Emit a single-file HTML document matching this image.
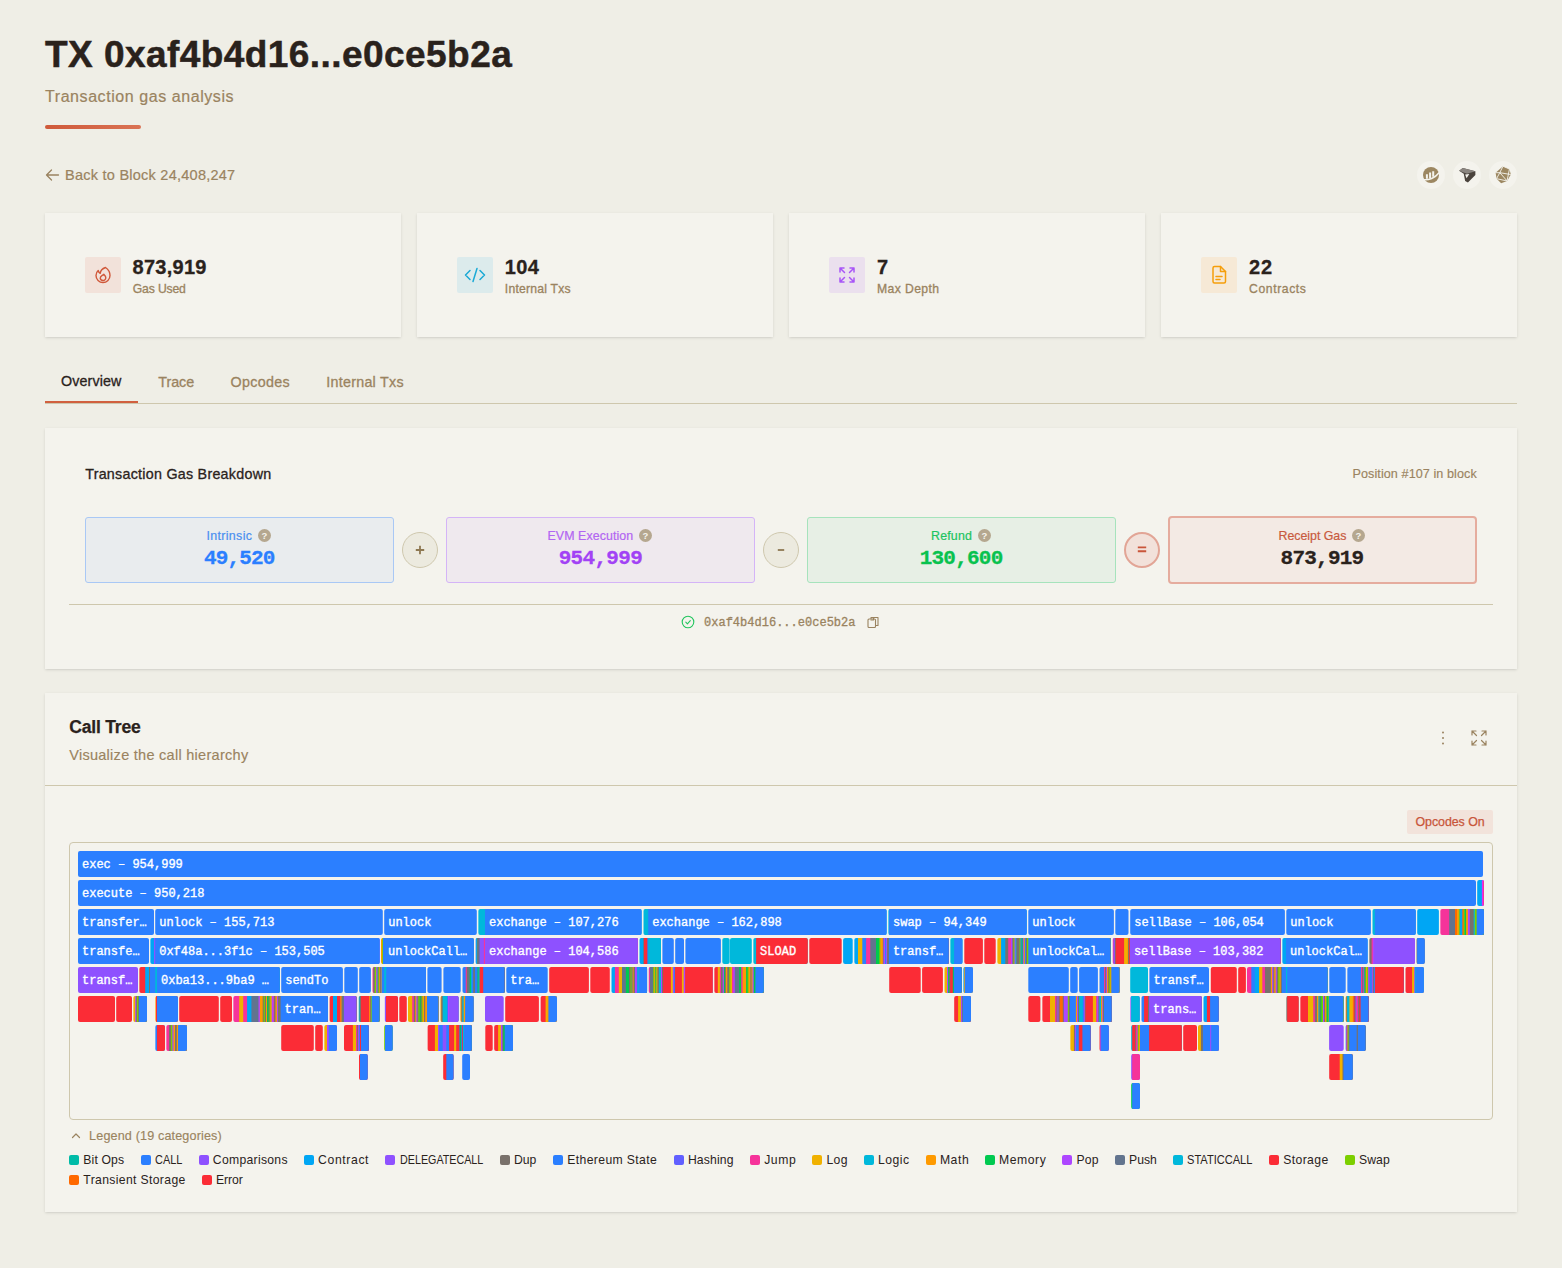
<!DOCTYPE html>
<html><head><meta charset="utf-8"><title>TX</title>
<style>
*{box-sizing:border-box;margin:0;padding:0}
html,body{width:1562px;height:1268px;overflow:hidden}
body{background:#EFEEE6;font-family:'Liberation Sans',sans-serif;color:#2A221C;position:relative}
.abs{position:absolute;white-space:nowrap}
.card{position:absolute;background:#F4F3ED;box-shadow:0 1px 3px rgba(0,0,0,.1),0 1px 2px -1px rgba(0,0,0,.1)}
.bar{left:45px;top:125px;width:96px;height:4px;border-radius:2px;background:linear-gradient(90deg,#CF5A3A,#DA7354)}
.circ{position:absolute;width:28px;height:28px;border-radius:50%;background:#F4F3ED;top:161px}
.ib{position:absolute;top:257px;width:36px;height:36px;border-radius:2px}
.gbox{position:absolute;top:517px;height:66px;width:309px;border-radius:3px;border:1px solid}
.q{position:absolute;top:529px;width:13px;height:13px;border-radius:50%;background:#B5A78F;color:#F4F3ED;font:700 9.5px/13px 'Liberation Sans',sans-serif;text-align:center}
.op{position:absolute;top:532px;width:36px;height:36px;border-radius:50%;border:1px solid #CFC8AE;background:#ECEADF}
.op svg{position:absolute;left:-1px;top:-1px}
.sw{position:absolute;width:10px;height:10px;border-radius:2px}
#chart text{font-family:'Liberation Mono',monospace;font-size:12px;fill:#fff;stroke:#fff;stroke-width:.35px}
</style></head><body>

<div class="abs" id="h1" style="left:45px;top:31px;font:700 37px/48px 'Liberation Sans',sans-serif;color:#2A221C;letter-spacing:0.441px;-webkit-text-stroke:0.5px #2A221C">TX 0xaf4b4d16...e0ce5b2a</div><div class="abs" id="sub" style="left:45px;top:87px;font:400 16px/20px 'Liberation Sans',sans-serif;color:#9A8360;letter-spacing:0.566px;-webkit-text-stroke:0.2px #9A8360">Transaction gas analysis</div>
<div class="abs bar"></div>
<svg class="abs" style="left:45px;top:168px" width="15" height="14" viewBox="0 0 15 14" fill="none" stroke="#9A8360" stroke-width="1.3" stroke-linecap="round" stroke-linejoin="round"><path d="M13.5 7H1.5M6.5 2L1.5 7l5 5"/></svg>
<div class="abs" id="back" style="left:65px;top:166px;font:400 14.5px/18px 'Liberation Sans',sans-serif;color:#9A8360;letter-spacing:0.249px;-webkit-text-stroke:0.2px #9A8360">Back to Block 24,408,247</div>

<div class="circ" style="left:1417px"><svg width="28" height="28" viewBox="0 0 28 28"><circle cx="14" cy="14" r="8" fill="#9C8761"/><path d="M9.900 13.200v4.600M13.100 11.600v5.800M16.200 10.200v5.600" stroke="#F4F3ED" stroke-width="2"/><path d="M6.500 18.700c5 .8 11.600-1.700 15.800-7.200" stroke="#F4F3ED" stroke-width="1.500" fill="none"/></svg></div>
<div class="circ" style="left:1453px"><svg width="28" height="28" viewBox="0 0 28 28"><g transform="translate(14,14.300) scale(.93) translate(-15,-14.300)"><path d="M6.500 9.500l4-3 13.500 3.500v4l-8 8-3-1.500-1.500-8z" fill="#4A433D"/><path d="M6.500 9.500l4-3 13.500 3.500-9 2.500z" fill="#8A8580"/><path d="M13 13.500l4.500-.5-3 4.500z" fill="#F4F3ED"/></g></svg></div>
<div class="circ" style="left:1489px"><svg width="28" height="28" viewBox="0 0 28 28"><g transform="translate(14,14) scale(.92) translate(-15,-15)"><path d="M15 5.500l7 3 1.500 6-4 7-6.500 2.500-5-5-1-6.500z" fill="#9C8761"/><path d="M15 5.500l-3.500 7 8 9M11.500 12.500l12 2M7 12.500l4.500 0M11.500 12.500l-3.500 6.500 11.500 2.500M15 5.500l7 3-2.500 12.500" stroke="#F4F3ED" stroke-width="1" fill="none"/></g></svg></div>
<div class="card" style="left:45px;top:213px;width:356px;height:124px"></div><div class="ib" style="left:85px;background:#F2E2DA"><svg width="36" height="36" viewBox="0 0 36 36" fill="none" stroke="#D0583A" stroke-width="1.4" stroke-linecap="round" stroke-linejoin="round"><path d="M20.500 10.500c3 2 4.500 5 4.500 8a7 7 0 0 1-14 0c0-2 .8-3.800 2.200-5 .3 1.200 1 2.200 2 2.800.3-2.500 1.800-4.600 5.300-5.800z"/><path d="M18 23.500a2.800 2.800 0 0 0 2.800-2.800c0-1.500-1-2.500-2-3.500-1.300 1.200-3.600 2-3.600 4a2.800 2.800 0 0 0 2.800 2.300z"/></svg></div><div class="abs" id="s1n" style="left:132.6px;top:255px;font:700 20px/24px 'Liberation Sans',sans-serif;color:#2A221C;letter-spacing:0.247px;-webkit-text-stroke:0.3px #2A221C">873,919</div><div class="abs" id="s1l" style="left:132.8px;top:281px;font:400 12.2px/16px 'Liberation Sans',sans-serif;color:#9A8360;letter-spacing:-0.160px;-webkit-text-stroke:0.3px #9A8360">Gas Used</div>
<div class="card" style="left:417px;top:213px;width:356px;height:124px"></div><div class="ib" style="left:457px;background:#DCEBEC"><svg width="36" height="36" viewBox="0 0 36 36" fill="none" stroke="#19A9D6" stroke-width="1.5" stroke-linecap="round" stroke-linejoin="round"><path d="M13 13.500l-4.500 4.500 4.500 4.500M23 13.500l4.500 4.500-4.500 4.500M20 11.500l-4 13"/></svg></div><div class="abs" id="s2n" style="left:504.8px;top:255px;font:700 20px/24px 'Liberation Sans',sans-serif;color:#2A221C;letter-spacing:0.410px;-webkit-text-stroke:0.3px #2A221C">104</div><div class="abs" id="s2l" style="left:504.8px;top:281px;font:400 12.2px/16px 'Liberation Sans',sans-serif;color:#9A8360;letter-spacing:0.221px;-webkit-text-stroke:0.3px #9A8360">Internal Txs</div>
<div class="card" style="left:789px;top:213px;width:356px;height:124px"></div><div class="ib" style="left:829px;background:#EBE0EE"><svg width="36" height="36" viewBox="0 0 36 36" fill="none" stroke="#A855F7" stroke-width="1.5" stroke-linecap="round" stroke-linejoin="round"><path d="M11 15v-4h4M11 11l4.500 4.500M25 15v-4h-4M25 11l-4.500 4.500M11 21v4h4M11 25l4.500-4.500M25 21v4h-4M25 25l-4.500-4.500"/></svg></div><div class="abs" id="s3n" style="left:877.1px;top:255px;font:700 20px/24px 'Liberation Sans',sans-serif;color:#2A221C;letter-spacing:-0.625px;-webkit-text-stroke:0.3px #2A221C">7</div><div class="abs" id="s3l" style="left:877.1px;top:281px;font:400 12.2px/16px 'Liberation Sans',sans-serif;color:#9A8360;letter-spacing:0.372px;-webkit-text-stroke:0.3px #9A8360">Max Depth</div>
<div class="card" style="left:1161px;top:213px;width:356px;height:124px"></div><div class="ib" style="left:1201px;background:#F6E9D6"><svg width="36" height="36" viewBox="0 0 36 36" fill="none" stroke="#F59E0B" stroke-width="1.5" stroke-linecap="round" stroke-linejoin="round"><path d="M13.500 9.500h6l5 5v10a1.500 1.500 0 0 1-1.500 1.500h-9.500a1.500 1.500 0 0 1-1.500-1.500v-13.500a1.500 1.500 0 0 1 1.500-1.500z"/><path d="M19.500 9.500v5h5M15 19.500h6M15 22.500h4"/></svg></div><div class="abs" id="s4n" style="left:1249.1px;top:255px;font:700 20px/24px 'Liberation Sans',sans-serif;color:#2A221C;letter-spacing:0.833px;-webkit-text-stroke:0.3px #2A221C">22</div><div class="abs" id="s4l" style="left:1249.1px;top:281px;font:400 12.2px/16px 'Liberation Sans',sans-serif;color:#9A8360;letter-spacing:0.582px;-webkit-text-stroke:0.3px #9A8360">Contracts</div>

<div class="abs" style="left:45px;top:403px;width:1472px;height:1px;background:#CEC7AD"></div>
<div class="abs" style="left:45px;top:401px;width:93px;height:2px;background:#D1603F"></div>
<div class="abs" id="t1" style="left:61.1px;top:372px;font:400 14.3px/18px 'Liberation Sans',sans-serif;color:#2A221C;letter-spacing:0.094px;-webkit-text-stroke:0.3px #2A221C">Overview</div><div class="abs" id="t2" style="left:158.2px;top:373px;font:400 14.3px/18px 'Liberation Sans',sans-serif;color:#9A8360;letter-spacing:-0.003px;-webkit-text-stroke:0.3px #9A8360">Trace</div><div class="abs" id="t3" style="left:230.6px;top:373px;font:400 14.3px/18px 'Liberation Sans',sans-serif;color:#9A8360;letter-spacing:0.302px;-webkit-text-stroke:0.3px #9A8360">Opcodes</div><div class="abs" id="t4" style="left:326.3px;top:373px;font:400 14.3px/18px 'Liberation Sans',sans-serif;color:#9A8360;letter-spacing:0.258px;-webkit-text-stroke:0.3px #9A8360">Internal Txs</div>

<div class="card" style="left:45px;top:428px;width:1472px;height:241px"></div>
<div class="abs" id="gt" style="left:85.2px;top:465px;font:400 14.3px/18px 'Liberation Sans',sans-serif;color:#2A221C;letter-spacing:0.255px;-webkit-text-stroke:0.3px #2A221C">Transaction Gas Breakdown</div><div class="abs" id="pos" style="left:1352.5px;top:466px;font:400 12.6px/16px 'Liberation Sans',sans-serif;color:#9A8360;letter-spacing:0.082px;-webkit-text-stroke:0.15px #9A8360">Position #107 in block</div>

<div class="gbox" style="left:85px;background:#E9ECEE;border-color:#A9C8F5"></div><div class="abs" id="g1t" style="left:206.4px;top:528.2px;font:400 12.4px/16px 'Liberation Sans',sans-serif;color:#4A8FF0;letter-spacing:0.364px;-webkit-text-stroke:0.2px #4A8FF0">Intrinsic</div><div class="q" style="left:258px">?</div><div class="abs" id="g1v" style="left:204px;top:546.2px;font:700 21px/26px 'Liberation Mono',monospace;color:#2B7FFF;letter-spacing:-0.841px;-webkit-text-stroke:0.3px #2B7FFF">49,520</div>
<div class="op" style="left:402px"><svg width="36" height="36" viewBox="0 0 36 36" stroke="#8E7852" stroke-width="1.800"><path d="M13.800 18h8.400M18 13.800v8.400"/></svg></div>
<div class="gbox" style="left:446px;background:#EFE9EE;border-color:#D4B4F7"></div><div class="abs" id="g2t" style="left:547.5px;top:528.2px;font:400 12.4px/16px 'Liberation Sans',sans-serif;color:#B266F2;letter-spacing:0.079px;-webkit-text-stroke:0.2px #B266F2">EVM Execution</div><div class="q" style="left:639px">?</div><div class="abs" id="g2v" style="left:558.7px;top:546.2px;font:700 21px/26px 'Liberation Mono',monospace;color:#A242F5;letter-spacing:-0.695px;-webkit-text-stroke:0.3px #A242F5">954,999</div>
<div class="op" style="left:763px"><svg width="36" height="36" viewBox="0 0 36 36" stroke="#8E7852" stroke-width="1.800"><path d="M14.800 18h6.400"/></svg></div>
<div class="gbox" style="left:807px;background:#E7EFE5;border-color:#A6E3BC"></div><div class="abs" id="g3t" style="left:931px;top:528.2px;font:400 12.4px/16px 'Liberation Sans',sans-serif;color:#1DC45F;letter-spacing:0.188px;-webkit-text-stroke:0.2px #1DC45F">Refund</div><div class="q" style="left:978px">?</div><div class="abs" id="g3v" style="left:919.7px;top:546.2px;font:700 21px/26px 'Liberation Mono',monospace;color:#08C24E;letter-spacing:-0.772px;-webkit-text-stroke:0.3px #08C24E">130,600</div>
<div class="op" style="left:1124px;border:2px solid #E2A596;background:#F2E1DA"><svg width="36" height="36" viewBox="0 0 36 36" stroke="#C9563B" stroke-width="1.900" style="left:-2px;top:-2px"><path d="M13.800 15.400h8.400M13.800 19.200h8.400"/></svg></div>
<div class="gbox" style="left:1168px;top:516px;height:68px;background:#F3EAE4;border:2px solid #E5AC9E;border-radius:4px"></div><div class="abs" id="g4t" style="left:1278.6px;top:528.2px;font:400 12.4px/16px 'Liberation Sans',sans-serif;color:#C85A3E;letter-spacing:-0.037px;-webkit-text-stroke:0.2px #C85A3E">Receipt Gas</div><div class="q" style="left:1352px">?</div><div class="abs" id="g4v" style="left:1280.6px;top:546.2px;font:700 21px/26px 'Liberation Mono',monospace;color:#2A221C;letter-spacing:-0.772px;-webkit-text-stroke:0.3px #2A221C">873,919</div>

<div class="abs" style="left:69px;top:604px;width:1424px;height:1px;background:#CEC7AD"></div>
<svg class="abs" style="left:681px;top:615px" width="14" height="14" viewBox="0 0 14 14" fill="none" stroke="#22C55E" stroke-width="1.1" stroke-linecap="round" stroke-linejoin="round"><circle cx="7" cy="7" r="5.800"/><path d="M4.800 7.200l1.600 1.600 2.900-3.200"/></svg>
<div class="abs" id="hash" style="left:704px;top:614.6px;font:400 12px/16px 'Liberation Mono',monospace;color:#9A8360;letter-spacing:0.013px;-webkit-text-stroke:0.3px #9A8360">0xaf4b4d16...e0ce5b2a</div>
<svg class="abs" style="left:866px;top:615px" width="14" height="14" viewBox="0 0 14 14" fill="none" stroke="#9A8360" stroke-width="1.1" stroke-linejoin="round"><rect x="2" y="4" width="7.500" height="8.500" rx="1"/><path d="M5 4V2.500h7v8h-2.500M7.500 2.500v2.500h-3"/></svg>

<div class="card" style="left:45px;top:693px;width:1472px;height:519px"></div>
<div class="abs" id="ct" style="left:69.2px;top:716px;font:700 17.5px/22px 'Liberation Sans',sans-serif;color:#2A221C;letter-spacing:-0.173px;-webkit-text-stroke:0.25px #2A221C">Call Tree</div><div class="abs" id="cs" style="left:69.2px;top:746px;font:400 14.5px/18px 'Liberation Sans',sans-serif;color:#9A8360;letter-spacing:0.280px;-webkit-text-stroke:0.15px #9A8360">Visualize the call hierarchy</div>
<div class="abs" style="left:45px;top:785px;width:1472px;height:1px;background:#CEC7AD"></div>
<svg class="abs" style="left:1436px;top:730px" width="14" height="16" viewBox="0 0 14 16" fill="#9A8360"><circle cx="7" cy="2.500" r="1"/><circle cx="7" cy="8" r="1"/><circle cx="7" cy="13.500" r="1"/></svg>
<svg class="abs" style="left:1470px;top:729px" width="18" height="18" viewBox="0 0 18 18" fill="none" stroke="#9A8360" stroke-width="1.2" stroke-linecap="round" stroke-linejoin="round"><path d="M2 6V2h4M2 2l4.500 4.500M16 6V2h-4M16 2l-4.500 4.500M2 12v4h4M2 16l4.500-4.500M16 12v4h-4M16 16l-4.500-4.500"/></svg>
<div class="abs" style="left:1407px;top:810px;width:86px;height:24px;border-radius:2px;background:#F2E3DB"></div><div class="abs" id="ob" style="left:1415.5px;top:814px;font:400 12.4px/16px 'Liberation Sans',sans-serif;color:#C8553A;letter-spacing:-0.050px;-webkit-text-stroke:0.25px #C8553A">Opcodes On</div>

<div class="abs" style="left:69px;top:842px;width:1424px;height:278px;border:1px solid #CEC7AD;border-radius:4px;background:#F4F3ED"></div>
<div class="abs" id="chart" style="left:70px;top:843px;width:1422px;height:276px"><svg width="1422" height="276" viewBox="0 0 1422 276" style="display:block"><defs><clipPath id="k1"><rect x="1407.1" y="37" width="6.9" height="26" rx="2.0"/></clipPath><clipPath id="k2"><rect x="408.2" y="66" width="163.6" height="26" rx="2.0"/></clipPath><clipPath id="k3"><rect x="573.3" y="66" width="243.5" height="26" rx="2.0"/></clipPath><clipPath id="k4"><rect x="818.2" y="66" width="138.7" height="26" rx="2.0"/></clipPath><clipPath id="k5"><rect x="1302.3" y="66" width="43.6" height="26" rx="2.0"/></clipPath><clipPath id="k6"><rect x="1370.2" y="66" width="43.8" height="26" rx="2.0"/></clipPath><clipPath id="k7"><rect x="80.2" y="95" width="229.6" height="26" rx="2.0"/></clipPath><clipPath id="k8"><rect x="311.0" y="95" width="92.9" height="26" rx="2.0"/></clipPath><clipPath id="k9"><rect x="405.4" y="95" width="162.5" height="26" rx="2.0"/></clipPath><clipPath id="k10"><rect x="569.3" y="95" width="21.7" height="26" rx="2.0"/></clipPath><clipPath id="k11"><rect x="683.2" y="95" width="54.7" height="26" rx="2.0"/></clipPath><clipPath id="k12"><rect x="784.2" y="95" width="94.6" height="26" rx="2.0"/></clipPath><clipPath id="k13"><rect x="880.2" y="95" width="12.5" height="26" rx="2.0"/></clipPath><clipPath id="k14"><rect x="927.2" y="95" width="113.6" height="26" rx="2.0"/></clipPath><clipPath id="k15"><rect x="1042.5" y="95" width="168.3" height="26" rx="2.0"/></clipPath><clipPath id="k16"><rect x="1212.2" y="95" width="85.6" height="26" rx="2.0"/></clipPath><clipPath id="k17"><rect x="1299.2" y="95" width="45.7" height="26" rx="2.0"/></clipPath><clipPath id="k18"><rect x="1346.3" y="95" width="8.6" height="26" rx="2.0"/></clipPath><clipPath id="k19"><rect x="69.2" y="124" width="140.6" height="26" rx="2.0"/></clipPath><clipPath id="k20"><rect x="302.3" y="124" width="53.7" height="26" rx="2.0"/></clipPath><clipPath id="k21"><rect x="392.3" y="124" width="42.4" height="26" rx="2.0"/></clipPath><clipPath id="k22"><rect x="541.3" y="124" width="35.8" height="26" rx="2.0"/></clipPath><clipPath id="k23"><rect x="578.5" y="124" width="64.3" height="26" rx="2.0"/></clipPath><clipPath id="k24"><rect x="644.2" y="124" width="49.7" height="26" rx="2.0"/></clipPath><clipPath id="k25"><rect x="874.3" y="124" width="17.6" height="26" rx="2.0"/></clipPath><clipPath id="k26"><rect x="893.2" y="124" width="9.8" height="26" rx="2.0"/></clipPath><clipPath id="k27"><rect x="1029.3" y="124" width="20.5" height="26" rx="2.0"/></clipPath><clipPath id="k28"><rect x="1177.0" y="124" width="80.6" height="26" rx="2.0"/></clipPath><clipPath id="k29"><rect x="1277.2" y="124" width="56.7" height="26" rx="2.0"/></clipPath><clipPath id="k30"><rect x="1335.3" y="124" width="18.6" height="26" rx="2.0"/></clipPath><clipPath id="k31"><rect x="63.2" y="153" width="13.8" height="26" rx="2.0"/></clipPath><clipPath id="k32"><rect x="85.2" y="153" width="22.8" height="26" rx="2.0"/></clipPath><clipPath id="k33"><rect x="163.2" y="153" width="94.8" height="26" rx="2.0"/></clipPath><clipPath id="k34"><rect x="259.4" y="153" width="27.3" height="26" rx="2.0"/></clipPath><clipPath id="k35"><rect x="288.5" y="153" width="21.3" height="26" rx="2.0"/></clipPath><clipPath id="k36"><rect x="314.6" y="153" width="13.4" height="26" rx="2.0"/></clipPath><clipPath id="k37"><rect x="337.9" y="153" width="30.8" height="26" rx="2.0"/></clipPath><clipPath id="k38"><rect x="370.3" y="153" width="18.3" height="26" rx="2.0"/></clipPath><clipPath id="k39"><rect x="390.2" y="153" width="13.7" height="26" rx="2.0"/></clipPath><clipPath id="k40"><rect x="470.4" y="153" width="16.6" height="26" rx="2.0"/></clipPath><clipPath id="k41"><rect x="884.1" y="153" width="16.9" height="26" rx="2.0"/></clipPath><clipPath id="k42"><rect x="972.2" y="153" width="69.6" height="26" rx="2.0"/></clipPath><clipPath id="k43"><rect x="1060.2" y="153" width="9.7" height="26" rx="2.0"/></clipPath><clipPath id="k44"><rect x="1071.3" y="153" width="60.6" height="26" rx="2.0"/></clipPath><clipPath id="k45"><rect x="1133.3" y="153" width="15.6" height="26" rx="2.0"/></clipPath><clipPath id="k46"><rect x="1216.2" y="153" width="12.6" height="26" rx="2.0"/></clipPath><clipPath id="k47"><rect x="1230.2" y="153" width="43.5" height="26" rx="2.0"/></clipPath><clipPath id="k48"><rect x="1275.4" y="153" width="23.4" height="26" rx="2.0"/></clipPath><clipPath id="k49"><rect x="85.2" y="182" width="9.8" height="26" rx="2.0"/></clipPath><clipPath id="k50"><rect x="96.2" y="182" width="20.8" height="26" rx="2.0"/></clipPath><clipPath id="k51"><rect x="254.2" y="182" width="12.8" height="26" rx="2.0"/></clipPath><clipPath id="k52"><rect x="274.0" y="182" width="24.9" height="26" rx="2.0"/></clipPath><clipPath id="k53"><rect x="314.1" y="182" width="8.8" height="26" rx="2.0"/></clipPath><clipPath id="k54"><rect x="357.4" y="182" width="44.4" height="26" rx="2.0"/></clipPath><clipPath id="k55"><rect x="424.1" y="182" width="18.9" height="26" rx="2.0"/></clipPath><clipPath id="k56"><rect x="1000.2" y="182" width="20.6" height="26" rx="2.0"/></clipPath><clipPath id="k57"><rect x="1029.3" y="182" width="9.6" height="26" rx="2.0"/></clipPath><clipPath id="k58"><rect x="1061.1" y="182" width="50.8" height="26" rx="2.0"/></clipPath><clipPath id="k59"><rect x="1128.0" y="182" width="20.9" height="26" rx="2.0"/></clipPath><clipPath id="k60"><rect x="1275.4" y="182" width="20.3" height="26" rx="2.0"/></clipPath><clipPath id="k61"><rect x="289.0" y="211" width="8.9" height="26" rx="2.0"/></clipPath><clipPath id="k62"><rect x="373.1" y="211" width="10.7" height="26" rx="2.0"/></clipPath><clipPath id="k63"><rect x="1061.1" y="211" width="8.9" height="26" rx="2.0"/></clipPath><clipPath id="k64"><rect x="1259.1" y="211" width="23.8" height="26" rx="2.0"/></clipPath><clipPath id="k65"><rect x="1061.1" y="240" width="8.9" height="26" rx="2.0"/></clipPath></defs><rect x="8.0" y="8" width="1405.0" height="26" rx="2.0" fill="#2B7FFF"/><rect x="8.0" y="37" width="1398.0" height="26" rx="2.0" fill="#2B7FFF"/><g clip-path="url(#k1)"><rect x="1407.1" y="37" width="6.9" height="26" fill="#00A6F4"/><rect x="1411.9" y="37" width="2.1" height="26" fill="#E12AFB"/><rect x="1413.0" y="37" width="1.0" height="26" fill="#F6339A"/></g><rect x="8.0" y="66" width="76.0" height="26" rx="2.0" fill="#2B7FFF"/><rect x="85.2" y="66" width="227.6" height="26" rx="2.0" fill="#2B7FFF"/><rect x="314.2" y="66" width="92.6" height="26" rx="2.0" fill="#2B7FFF"/><g clip-path="url(#k2)"><rect x="408.2" y="66" width="163.6" height="26" fill="#00B8DB"/><rect x="415.0" y="66" width="156.8" height="26" fill="#2B7FFF"/></g><g clip-path="url(#k3)"><rect x="573.3" y="66" width="243.5" height="26" fill="#00B8DB"/><rect x="578.2" y="66" width="238.6" height="26" fill="#2B7FFF"/></g><g clip-path="url(#k4)"><rect x="818.2" y="66" width="138.7" height="26" fill="#00B8DB"/><rect x="819.0" y="66" width="137.9" height="26" fill="#2B7FFF"/></g><rect x="958.3" y="66" width="85.6" height="26" rx="2.0" fill="#2B7FFF"/><rect x="1045.3" y="66" width="13.2" height="26" rx="2.0" fill="#2B7FFF"/><rect x="1060.2" y="66" width="154.7" height="26" rx="2.0" fill="#2B7FFF"/><rect x="1216.3" y="66" width="84.6" height="26" rx="2.0" fill="#2B7FFF"/><g clip-path="url(#k5)"><rect x="1302.3" y="66" width="43.6" height="26" fill="#00B8DB"/><rect x="1304.9" y="66" width="41.0" height="26" fill="#2B7FFF"/></g><rect x="1347.2" y="66" width="21.7" height="26" rx="2.0" fill="#00A6F4"/><g clip-path="url(#k6)"><rect x="1370.2" y="66" width="43.8" height="26" fill="#F6339A"/><rect x="1379.2" y="66" width="34.8" height="26" fill="#62748E"/><rect x="1385.0" y="66" width="29.0" height="26" fill="#FF6900"/><rect x="1387.0" y="66" width="27.0" height="26" fill="#FE9A00"/><rect x="1388.8" y="66" width="25.2" height="26" fill="#7CCF00"/><rect x="1389.7" y="66" width="24.3" height="26" fill="#00A6F4"/><rect x="1392.3" y="66" width="21.7" height="26" fill="#FF6900"/><rect x="1393.7" y="66" width="20.3" height="26" fill="#7CCF00"/><rect x="1394.7" y="66" width="19.3" height="26" fill="#00C950"/><rect x="1396.1" y="66" width="17.9" height="26" fill="#FE9A00"/><rect x="1397.9" y="66" width="16.1" height="26" fill="#AD46FF"/><rect x="1399.8" y="66" width="14.2" height="26" fill="#79716B"/><rect x="1403.7" y="66" width="10.3" height="26" fill="#00B8DB"/><rect x="1404.8" y="66" width="9.2" height="26" fill="#7CCF00"/><rect x="1406.7" y="66" width="7.3" height="26" fill="#2B7FFF"/></g><rect x="8.0" y="95" width="71.0" height="26" rx="2.0" fill="#2B7FFF"/><g clip-path="url(#k7)"><rect x="80.2" y="95" width="229.6" height="26" fill="#00A6F4"/><rect x="84.0" y="95" width="225.8" height="26" fill="#8E51FF"/><rect x="85.2" y="95" width="224.6" height="26" fill="#2B7FFF"/></g><g clip-path="url(#k8)"><rect x="311.0" y="95" width="92.9" height="26" fill="#FE9A00"/><rect x="312.2" y="95" width="91.7" height="26" fill="#7CCF00"/><rect x="313.0" y="95" width="90.9" height="26" fill="#2B7FFF"/><rect x="314.1" y="95" width="89.8" height="26" fill="#2B7FFF"/></g><g clip-path="url(#k9)"><rect x="405.4" y="95" width="162.5" height="26" fill="#2B7FFF"/><rect x="406.3" y="95" width="161.6" height="26" fill="#00B8DB"/><rect x="407.2" y="95" width="160.7" height="26" fill="#79716B"/><rect x="408.2" y="95" width="159.7" height="26" fill="#62748E"/><rect x="409.6" y="95" width="158.3" height="26" fill="#8E51FF"/><rect x="413.9" y="95" width="154.0" height="26" fill="#F6339A"/><rect x="415.0" y="95" width="152.9" height="26" fill="#8E51FF"/></g><g clip-path="url(#k10)"><rect x="569.3" y="95" width="21.7" height="26" fill="#00A6F4"/><rect x="573.3" y="95" width="17.7" height="26" fill="#79716B"/><rect x="574.0" y="95" width="17.0" height="26" fill="#FB2C36"/><rect x="577.3" y="95" width="13.7" height="26" fill="#2B7FFF"/><rect x="578.2" y="95" width="12.8" height="26" fill="#00B8DB"/></g><rect x="592.4" y="95" width="11.4" height="26" rx="2.0" fill="#2B7FFF"/><rect x="605.2" y="95" width="8.8" height="26" rx="2.0" fill="#2B7FFF"/><rect x="615.4" y="95" width="35.5" height="26" rx="2.0" fill="#2B7FFF"/><rect x="652.3" y="95" width="7.4" height="26" rx="2.0" fill="#00B8DB"/><rect x="660.0" y="95" width="21.8" height="26" rx="2.0" fill="#00B8DB"/><g clip-path="url(#k11)"><rect x="683.2" y="95" width="54.7" height="26" fill="#00B8DB"/><rect x="686.1" y="95" width="51.8" height="26" fill="#FB2C36"/></g><rect x="739.3" y="95" width="32.4" height="26" rx="2.0" fill="#FB2C36"/><rect x="773.1" y="95" width="9.6" height="26" rx="2.0" fill="#00A6F4"/><g clip-path="url(#k12)"><rect x="784.2" y="95" width="94.6" height="26" fill="#00A6F4"/><rect x="788.0" y="95" width="90.8" height="26" fill="#F0B100"/><rect x="792.3" y="95" width="86.5" height="26" fill="#2B7FFF"/><rect x="796.1" y="95" width="82.7" height="26" fill="#F6339A"/><rect x="800.3" y="95" width="78.5" height="26" fill="#62748E"/><rect x="806.0" y="95" width="72.8" height="26" fill="#00C950"/><rect x="809.3" y="95" width="69.5" height="26" fill="#7CCF00"/><rect x="810.4" y="95" width="68.4" height="26" fill="#FE9A00"/><rect x="812.8" y="95" width="66.0" height="26" fill="#79716B"/><rect x="813.5" y="95" width="65.3" height="26" fill="#AD46FF"/><rect x="815.0" y="95" width="63.8" height="26" fill="#2B7FFF"/><rect x="816.1" y="95" width="62.7" height="26" fill="#AD46FF"/><rect x="817.1" y="95" width="61.7" height="26" fill="#79716B"/><rect x="818.9" y="95" width="59.9" height="26" fill="#2B7FFF"/></g><g clip-path="url(#k13)"><rect x="880.2" y="95" width="12.5" height="26" fill="#00B8DB"/><rect x="884.1" y="95" width="8.6" height="26" fill="#2B7FFF"/></g><rect x="894.3" y="95" width="18.6" height="26" rx="2.0" fill="#FB2C36"/><rect x="914.3" y="95" width="11.4" height="26" rx="2.0" fill="#FB2C36"/><g clip-path="url(#k14)"><rect x="927.2" y="95" width="113.6" height="26" fill="#F0B100"/><rect x="931.1" y="95" width="109.7" height="26" fill="#00A6F4"/><rect x="935.3" y="95" width="105.5" height="26" fill="#79716B"/><rect x="938.2" y="95" width="102.6" height="26" fill="#F6339A"/><rect x="941.0" y="95" width="99.8" height="26" fill="#AD46FF"/><rect x="942.4" y="95" width="98.4" height="26" fill="#79716B"/><rect x="943.4" y="95" width="97.4" height="26" fill="#7CCF00"/><rect x="944.5" y="95" width="96.3" height="26" fill="#AD46FF"/><rect x="945.5" y="95" width="95.3" height="26" fill="#00B8DB"/><rect x="946.4" y="95" width="94.4" height="26" fill="#79716B"/><rect x="949.5" y="95" width="91.3" height="26" fill="#7CCF00"/><rect x="950.5" y="95" width="90.3" height="26" fill="#2B7FFF"/><rect x="951.6" y="95" width="89.2" height="26" fill="#00C950"/><rect x="952.8" y="95" width="88.0" height="26" fill="#AD46FF"/><rect x="953.8" y="95" width="87.0" height="26" fill="#FE9A00"/><rect x="954.8" y="95" width="86.0" height="26" fill="#2B7FFF"/><rect x="955.9" y="95" width="84.9" height="26" fill="#79716B"/><rect x="957.0" y="95" width="83.8" height="26" fill="#7CCF00"/><rect x="958.3" y="95" width="82.5" height="26" fill="#2B7FFF"/></g><g clip-path="url(#k15)"><rect x="1042.5" y="95" width="168.3" height="26" fill="#F6339A"/><rect x="1043.5" y="95" width="167.3" height="26" fill="#8E51FF"/><rect x="1044.9" y="95" width="165.9" height="26" fill="#79716B"/><rect x="1045.7" y="95" width="165.1" height="26" fill="#FB2C36"/><rect x="1054.1" y="95" width="156.7" height="26" fill="#F0B100"/><rect x="1057.1" y="95" width="153.7" height="26" fill="#FE9A00"/><rect x="1058.1" y="95" width="152.7" height="26" fill="#79716B"/><rect x="1059.0" y="95" width="151.8" height="26" fill="#FB2C36"/><rect x="1059.9" y="95" width="150.9" height="26" fill="#8E51FF"/></g><g clip-path="url(#k16)"><rect x="1212.2" y="95" width="85.6" height="26" fill="#00A6F4"/><rect x="1216.0" y="95" width="81.8" height="26" fill="#2B7FFF"/></g><g clip-path="url(#k17)"><rect x="1299.2" y="95" width="45.7" height="26" fill="#79716B"/><rect x="1301.6" y="95" width="43.3" height="26" fill="#F6339A"/><rect x="1302.8" y="95" width="42.1" height="26" fill="#AD46FF"/><rect x="1304.2" y="95" width="40.7" height="26" fill="#8E51FF"/></g><g clip-path="url(#k18)"><rect x="1346.3" y="95" width="8.6" height="26" fill="#79716B"/><rect x="1347.1" y="95" width="7.8" height="26" fill="#2B7FFF"/></g><rect x="8.0" y="124" width="60.0" height="26" rx="2.0" fill="#8E51FF"/><g clip-path="url(#k19)"><rect x="69.2" y="124" width="140.6" height="26" fill="#FB2C36"/><rect x="75.2" y="124" width="134.6" height="26" fill="#00A6F4"/><rect x="79.0" y="124" width="130.8" height="26" fill="#79716B"/><rect x="80.0" y="124" width="129.8" height="26" fill="#2B7FFF"/><rect x="85.2" y="124" width="124.6" height="26" fill="#00B8DB"/><rect x="87.0" y="124" width="122.8" height="26" fill="#2B7FFF"/></g><rect x="211.2" y="124" width="61.7" height="26" rx="2.0" fill="#2B7FFF"/><rect x="274.3" y="124" width="13.5" height="26" rx="2.0" fill="#2B7FFF"/><rect x="289.2" y="124" width="11.7" height="26" rx="2.0" fill="#2B7FFF"/><g clip-path="url(#k20)"><rect x="302.3" y="124" width="53.7" height="26" fill="#F6339A"/><rect x="303.4" y="124" width="52.6" height="26" fill="#79716B"/><rect x="304.8" y="124" width="51.2" height="26" fill="#7CCF00"/><rect x="306.2" y="124" width="49.8" height="26" fill="#AD46FF"/><rect x="307.6" y="124" width="48.4" height="26" fill="#00C950"/><rect x="308.6" y="124" width="47.4" height="26" fill="#FE9A00"/><rect x="309.8" y="124" width="46.2" height="26" fill="#79716B"/><rect x="310.9" y="124" width="45.1" height="26" fill="#FE9A00"/><rect x="311.5" y="124" width="44.5" height="26" fill="#2B7FFF"/><rect x="314.1" y="124" width="41.9" height="26" fill="#00B8DB"/><rect x="316.2" y="124" width="39.8" height="26" fill="#2B7FFF"/></g><rect x="357.4" y="124" width="14.2" height="26" rx="2.0" fill="#2B7FFF"/><rect x="373.4" y="124" width="17.3" height="26" rx="2.0" fill="#2B7FFF"/><g clip-path="url(#k21)"><rect x="392.3" y="124" width="42.4" height="26" fill="#2B7FFF"/><rect x="395.7" y="124" width="39.0" height="26" fill="#F6339A"/><rect x="396.8" y="124" width="37.9" height="26" fill="#79716B"/><rect x="398.3" y="124" width="36.4" height="26" fill="#62748E"/><rect x="399.7" y="124" width="35.0" height="26" fill="#00C950"/><rect x="400.8" y="124" width="33.9" height="26" fill="#00B8DB"/><rect x="401.8" y="124" width="32.9" height="26" fill="#2B7FFF"/><rect x="403.2" y="124" width="31.5" height="26" fill="#79716B"/><rect x="404.9" y="124" width="29.8" height="26" fill="#2B7FFF"/><rect x="407.5" y="124" width="27.2" height="26" fill="#00C950"/><rect x="408.5" y="124" width="26.2" height="26" fill="#00B8DB"/><rect x="409.6" y="124" width="25.1" height="26" fill="#FB2C36"/><rect x="413.2" y="124" width="21.5" height="26" fill="#2B7FFF"/></g><rect x="436.3" y="124" width="41.4" height="26" rx="2.0" fill="#2B7FFF"/><rect x="479.2" y="124" width="39.7" height="26" rx="2.0" fill="#FB2C36"/><rect x="520.3" y="124" width="19.5" height="26" rx="2.0" fill="#FB2C36"/><g clip-path="url(#k22)"><rect x="541.3" y="124" width="35.8" height="26" fill="#00A6F4"/><rect x="544.9" y="124" width="32.2" height="26" fill="#F6339A"/><rect x="548.8" y="124" width="28.3" height="26" fill="#F0B100"/><rect x="552.0" y="124" width="25.1" height="26" fill="#62748E"/><rect x="555.9" y="124" width="21.2" height="26" fill="#00C950"/><rect x="559.0" y="124" width="18.1" height="26" fill="#79716B"/><rect x="560.5" y="124" width="16.6" height="26" fill="#7CCF00"/><rect x="561.6" y="124" width="15.5" height="26" fill="#62748E"/><rect x="562.6" y="124" width="14.5" height="26" fill="#FE9A00"/><rect x="563.6" y="124" width="13.5" height="26" fill="#79716B"/><rect x="565.0" y="124" width="12.1" height="26" fill="#AD46FF"/><rect x="566.9" y="124" width="10.2" height="26" fill="#2B7FFF"/><rect x="567.6" y="124" width="9.5" height="26" fill="#00B8DB"/><rect x="568.7" y="124" width="8.4" height="26" fill="#2B7FFF"/></g><g clip-path="url(#k23)"><rect x="578.5" y="124" width="64.3" height="26" fill="#F6339A"/><rect x="579.9" y="124" width="62.9" height="26" fill="#62748E"/><rect x="583.2" y="124" width="59.6" height="26" fill="#7CCF00"/><rect x="584.3" y="124" width="58.5" height="26" fill="#FE9A00"/><rect x="585.3" y="124" width="57.5" height="26" fill="#00C950"/><rect x="586.3" y="124" width="56.5" height="26" fill="#F0B100"/><rect x="587.4" y="124" width="55.4" height="26" fill="#79716B"/><rect x="588.9" y="124" width="53.9" height="26" fill="#00B8DB"/><rect x="591.0" y="124" width="51.8" height="26" fill="#AD46FF"/><rect x="592.0" y="124" width="50.8" height="26" fill="#79716B"/><rect x="593.1" y="124" width="49.7" height="26" fill="#FB2C36"/><rect x="600.9" y="124" width="41.9" height="26" fill="#F0B100"/><rect x="602.8" y="124" width="40.0" height="26" fill="#AD46FF"/><rect x="603.8" y="124" width="39.0" height="26" fill="#2B7FFF"/><rect x="604.9" y="124" width="37.9" height="26" fill="#FB2C36"/><rect x="611.9" y="124" width="30.9" height="26" fill="#F0B100"/><rect x="613.7" y="124" width="29.1" height="26" fill="#AD46FF"/><rect x="615.1" y="124" width="27.7" height="26" fill="#FB2C36"/></g><g clip-path="url(#k24)"><rect x="644.2" y="124" width="49.7" height="26" fill="#FB2C36"/><rect x="647.8" y="124" width="46.1" height="26" fill="#F0B100"/><rect x="649.9" y="124" width="44.0" height="26" fill="#F6339A"/><rect x="651.0" y="124" width="42.9" height="26" fill="#79716B"/><rect x="652.7" y="124" width="41.2" height="26" fill="#AD46FF"/><rect x="653.9" y="124" width="40.0" height="26" fill="#00C950"/><rect x="654.9" y="124" width="39.0" height="26" fill="#79716B"/><rect x="655.9" y="124" width="38.0" height="26" fill="#FE9A00"/><rect x="657.3" y="124" width="36.6" height="26" fill="#79716B"/><rect x="659.1" y="124" width="34.8" height="26" fill="#7CCF00"/><rect x="660.5" y="124" width="33.4" height="26" fill="#F0B100"/><rect x="662.0" y="124" width="31.9" height="26" fill="#F6339A"/><rect x="663.4" y="124" width="30.5" height="26" fill="#AD46FF"/><rect x="664.8" y="124" width="29.1" height="26" fill="#62748E"/><rect x="669.1" y="124" width="24.8" height="26" fill="#00C950"/><rect x="671.2" y="124" width="22.7" height="26" fill="#F6339A"/><rect x="672.6" y="124" width="21.3" height="26" fill="#FE9A00"/><rect x="676.1" y="124" width="17.8" height="26" fill="#00C950"/><rect x="677.6" y="124" width="16.3" height="26" fill="#7CCF00"/><rect x="678.6" y="124" width="15.3" height="26" fill="#FE9A00"/><rect x="680.4" y="124" width="13.5" height="26" fill="#79716B"/><rect x="681.5" y="124" width="12.4" height="26" fill="#FE9A00"/><rect x="682.5" y="124" width="11.4" height="26" fill="#AD46FF"/><rect x="683.7" y="124" width="10.2" height="26" fill="#00C950"/><rect x="685.4" y="124" width="8.5" height="26" fill="#2B7FFF"/></g><rect x="819.2" y="124" width="31.5" height="26" rx="2.0" fill="#FB2C36"/><rect x="852.1" y="124" width="20.8" height="26" rx="2.0" fill="#FB2C36"/><g clip-path="url(#k25)"><rect x="874.3" y="124" width="17.6" height="26" fill="#F0B100"/><rect x="877.0" y="124" width="14.9" height="26" fill="#AD46FF"/><rect x="878.1" y="124" width="13.8" height="26" fill="#00C950"/><rect x="879.1" y="124" width="12.8" height="26" fill="#79716B"/><rect x="880.2" y="124" width="11.7" height="26" fill="#FB2C36"/><rect x="882.8" y="124" width="9.1" height="26" fill="#00C950"/><rect x="883.8" y="124" width="8.1" height="26" fill="#2B7FFF"/></g><g clip-path="url(#k26)"><rect x="893.2" y="124" width="9.8" height="26" fill="#00A6F4"/><rect x="894.2" y="124" width="8.8" height="26" fill="#FE9A00"/><rect x="894.9" y="124" width="8.1" height="26" fill="#2B7FFF"/></g><rect x="958.3" y="124" width="40.5" height="26" rx="2.0" fill="#2B7FFF"/><rect x="1000.2" y="124" width="7.5" height="26" rx="2.0" fill="#2B7FFF"/><rect x="1009.1" y="124" width="18.8" height="26" rx="2.0" fill="#2B7FFF"/><g clip-path="url(#k27)"><rect x="1029.3" y="124" width="20.5" height="26" fill="#2B7FFF"/><rect x="1034.0" y="124" width="15.8" height="26" fill="#F6339A"/><rect x="1035.1" y="124" width="14.7" height="26" fill="#79716B"/><rect x="1036.1" y="124" width="13.7" height="26" fill="#AD46FF"/><rect x="1037.1" y="124" width="12.7" height="26" fill="#FE9A00"/><rect x="1038.2" y="124" width="11.6" height="26" fill="#79716B"/><rect x="1039.2" y="124" width="10.6" height="26" fill="#7CCF00"/><rect x="1040.4" y="124" width="9.4" height="26" fill="#FE9A00"/><rect x="1041.3" y="124" width="8.5" height="26" fill="#2B7FFF"/></g><rect x="1060.2" y="124" width="17.8" height="26" rx="2.0" fill="#00B8DB"/><rect x="1079.4" y="124" width="59.6" height="26" rx="2.0" fill="#2B7FFF"/><rect x="1140.8" y="124" width="26.0" height="26" rx="2.0" fill="#FB2C36"/><rect x="1168.2" y="124" width="7.7" height="26" rx="2.0" fill="#FB2C36"/><g clip-path="url(#k28)"><rect x="1177.0" y="124" width="80.6" height="26" fill="#F6339A"/><rect x="1181.3" y="124" width="76.3" height="26" fill="#2B7FFF"/><rect x="1184.8" y="124" width="72.8" height="26" fill="#00A6F4"/><rect x="1189.1" y="124" width="68.5" height="26" fill="#F0B100"/><rect x="1192.3" y="124" width="65.3" height="26" fill="#F6339A"/><rect x="1195.0" y="124" width="62.6" height="26" fill="#79716B"/><rect x="1200.9" y="124" width="56.7" height="26" fill="#FE9A00"/><rect x="1202.1" y="124" width="55.5" height="26" fill="#AD46FF"/><rect x="1203.3" y="124" width="54.3" height="26" fill="#79716B"/><rect x="1204.3" y="124" width="53.3" height="26" fill="#FE9A00"/><rect x="1205.7" y="124" width="51.9" height="26" fill="#AD46FF"/><rect x="1206.8" y="124" width="50.8" height="26" fill="#79716B"/><rect x="1208.2" y="124" width="49.4" height="26" fill="#7CCF00"/><rect x="1209.7" y="124" width="47.9" height="26" fill="#FE9A00"/><rect x="1210.7" y="124" width="46.9" height="26" fill="#79716B"/><rect x="1211.8" y="124" width="45.8" height="26" fill="#2B7FFF"/><rect x="1216.0" y="124" width="41.6" height="26" fill="#00B8DB"/><rect x="1217.2" y="124" width="40.4" height="26" fill="#2B7FFF"/></g><rect x="1259.3" y="124" width="16.4" height="26" rx="2.0" fill="#2B7FFF"/><g clip-path="url(#k29)"><rect x="1277.2" y="124" width="56.7" height="26" fill="#2B7FFF"/><rect x="1291.0" y="124" width="42.9" height="26" fill="#F6339A"/><rect x="1292.1" y="124" width="41.8" height="26" fill="#79716B"/><rect x="1293.4" y="124" width="40.5" height="26" fill="#AD46FF"/><rect x="1294.3" y="124" width="39.6" height="26" fill="#00C950"/><rect x="1295.7" y="124" width="38.2" height="26" fill="#FE9A00"/><rect x="1297.0" y="124" width="36.9" height="26" fill="#7CCF00"/><rect x="1298.1" y="124" width="35.8" height="26" fill="#AD46FF"/><rect x="1299.5" y="124" width="34.4" height="26" fill="#2B7FFF"/><rect x="1301.9" y="124" width="32.0" height="26" fill="#AD46FF"/><rect x="1302.8" y="124" width="31.1" height="26" fill="#79716B"/><rect x="1303.8" y="124" width="30.1" height="26" fill="#2B7FFF"/><rect x="1304.9" y="124" width="29.0" height="26" fill="#FB2C36"/></g><g clip-path="url(#k30)"><rect x="1335.3" y="124" width="18.6" height="26" fill="#FB2C36"/><rect x="1342.1" y="124" width="11.8" height="26" fill="#F0B100"/><rect x="1344.2" y="124" width="9.7" height="26" fill="#AD46FF"/><rect x="1344.9" y="124" width="9.0" height="26" fill="#00B8DB"/><rect x="1345.6" y="124" width="8.3" height="26" fill="#2B7FFF"/></g><rect x="8.0" y="153" width="37.0" height="26" rx="2.0" fill="#FB2C36"/><rect x="46.2" y="153" width="15.8" height="26" rx="2.0" fill="#FB2C36"/><g clip-path="url(#k31)"><rect x="63.2" y="153" width="13.8" height="26" fill="#F0B100"/><rect x="65.2" y="153" width="11.8" height="26" fill="#AD46FF"/><rect x="66.2" y="153" width="10.8" height="26" fill="#79716B"/><rect x="67.0" y="153" width="10.0" height="26" fill="#7CCF00"/><rect x="68.2" y="153" width="8.8" height="26" fill="#79716B"/><rect x="69.0" y="153" width="8.0" height="26" fill="#2B7FFF"/></g><g clip-path="url(#k32)"><rect x="85.2" y="153" width="22.8" height="26" fill="#FE9A00"/><rect x="86.0" y="153" width="22.0" height="26" fill="#FB2C36"/><rect x="87.0" y="153" width="21.0" height="26" fill="#2B7FFF"/></g><rect x="109.2" y="153" width="39.6" height="26" rx="2.0" fill="#FB2C36"/><rect x="150.2" y="153" width="11.8" height="26" rx="2.0" fill="#FB2C36"/><g clip-path="url(#k33)"><rect x="163.2" y="153" width="94.8" height="26" fill="#F6339A"/><rect x="169.2" y="153" width="88.8" height="26" fill="#F0B100"/><rect x="173.2" y="153" width="84.8" height="26" fill="#F6339A"/><rect x="177.1" y="153" width="80.9" height="26" fill="#00A6F4"/><rect x="181.4" y="153" width="76.6" height="26" fill="#62748E"/><rect x="188.5" y="153" width="69.5" height="26" fill="#AD46FF"/><rect x="189.9" y="153" width="68.1" height="26" fill="#FE9A00"/><rect x="192.7" y="153" width="65.3" height="26" fill="#79716B"/><rect x="193.7" y="153" width="64.3" height="26" fill="#7CCF00"/><rect x="194.9" y="153" width="63.1" height="26" fill="#79716B"/><rect x="196.0" y="153" width="62.0" height="26" fill="#FE9A00"/><rect x="197.0" y="153" width="61.0" height="26" fill="#00C950"/><rect x="198.4" y="153" width="59.6" height="26" fill="#79716B"/><rect x="199.4" y="153" width="58.6" height="26" fill="#7CCF00"/><rect x="200.5" y="153" width="57.5" height="26" fill="#FE9A00"/><rect x="201.7" y="153" width="56.3" height="26" fill="#AD46FF"/><rect x="203.4" y="153" width="54.6" height="26" fill="#F6339A"/><rect x="204.1" y="153" width="53.9" height="26" fill="#79716B"/><rect x="205.5" y="153" width="52.5" height="26" fill="#FE9A00"/><rect x="206.9" y="153" width="51.1" height="26" fill="#AD46FF"/><rect x="207.9" y="153" width="50.1" height="26" fill="#79716B"/><rect x="210.6" y="153" width="47.4" height="26" fill="#2B7FFF"/></g><g clip-path="url(#k34)"><rect x="259.4" y="153" width="27.3" height="26" fill="#FB2C36"/><rect x="263.0" y="153" width="23.7" height="26" fill="#00A6F4"/><rect x="267.0" y="153" width="19.7" height="26" fill="#FB2C36"/><rect x="270.4" y="153" width="16.3" height="26" fill="#FE9A00"/><rect x="271.5" y="153" width="15.2" height="26" fill="#79716B"/><rect x="272.9" y="153" width="13.8" height="26" fill="#62748E"/><rect x="274.0" y="153" width="12.7" height="26" fill="#8E51FF"/></g><g clip-path="url(#k35)"><rect x="288.5" y="153" width="21.3" height="26" fill="#00B8DB"/><rect x="289.6" y="153" width="20.2" height="26" fill="#79716B"/><rect x="291.0" y="153" width="18.8" height="26" fill="#FB2C36"/><rect x="299.2" y="153" width="10.6" height="26" fill="#FE9A00"/><rect x="300.2" y="153" width="9.6" height="26" fill="#79716B"/><rect x="301.0" y="153" width="8.8" height="26" fill="#7CCF00"/><rect x="301.7" y="153" width="8.1" height="26" fill="#2B7FFF"/></g><g clip-path="url(#k36)"><rect x="314.6" y="153" width="13.4" height="26" fill="#8E51FF"/><rect x="316.0" y="153" width="12.0" height="26" fill="#FB2C36"/></g><rect x="329.3" y="153" width="7.5" height="26" rx="2.0" fill="#FB2C36"/><g clip-path="url(#k37)"><rect x="337.9" y="153" width="30.8" height="26" fill="#F0B100"/><rect x="342.2" y="153" width="26.5" height="26" fill="#F6339A"/><rect x="343.9" y="153" width="24.8" height="26" fill="#79716B"/><rect x="345.3" y="153" width="23.4" height="26" fill="#FE9A00"/><rect x="346.3" y="153" width="22.4" height="26" fill="#AD46FF"/><rect x="347.4" y="153" width="21.3" height="26" fill="#79716B"/><rect x="348.4" y="153" width="20.3" height="26" fill="#7CCF00"/><rect x="349.6" y="153" width="19.1" height="26" fill="#00C950"/><rect x="350.7" y="153" width="18.0" height="26" fill="#79716B"/><rect x="351.7" y="153" width="17.0" height="26" fill="#7CCF00"/><rect x="352.7" y="153" width="16.0" height="26" fill="#FE9A00"/><rect x="354.1" y="153" width="14.6" height="26" fill="#79716B"/><rect x="355.2" y="153" width="13.5" height="26" fill="#FE9A00"/><rect x="357.0" y="153" width="11.7" height="26" fill="#2B7FFF"/></g><g clip-path="url(#k38)"><rect x="370.3" y="153" width="18.3" height="26" fill="#FE9A00"/><rect x="371.3" y="153" width="17.3" height="26" fill="#79716B"/><rect x="372.7" y="153" width="15.9" height="26" fill="#00B8DB"/><rect x="377.0" y="153" width="11.6" height="26" fill="#2B7FFF"/><rect x="378.0" y="153" width="10.6" height="26" fill="#AD46FF"/><rect x="379.1" y="153" width="9.5" height="26" fill="#8E51FF"/></g><g clip-path="url(#k39)"><rect x="390.2" y="153" width="13.7" height="26" fill="#FE9A00"/><rect x="391.4" y="153" width="12.5" height="26" fill="#79716B"/><rect x="392.3" y="153" width="11.6" height="26" fill="#00B8DB"/><rect x="393.7" y="153" width="10.2" height="26" fill="#FE9A00"/><rect x="395.1" y="153" width="8.8" height="26" fill="#2B7FFF"/></g><rect x="415.0" y="153" width="18.7" height="26" rx="2.0" fill="#8E51FF"/><rect x="435.2" y="153" width="33.7" height="26" rx="2.0" fill="#FB2C36"/><g clip-path="url(#k40)"><rect x="470.4" y="153" width="16.6" height="26" fill="#FB2C36"/><rect x="475.6" y="153" width="11.4" height="26" fill="#F0B100"/><rect x="477.3" y="153" width="9.7" height="26" fill="#FE9A00"/><rect x="478.4" y="153" width="8.6" height="26" fill="#2B7FFF"/></g><g clip-path="url(#k41)"><rect x="884.1" y="153" width="16.9" height="26" fill="#FB2C36"/><rect x="888.1" y="153" width="12.9" height="26" fill="#F0B100"/><rect x="890.9" y="153" width="10.1" height="26" fill="#AD46FF"/><rect x="891.9" y="153" width="9.1" height="26" fill="#79716B"/><rect x="892.7" y="153" width="8.3" height="26" fill="#2B7FFF"/></g><rect x="958.3" y="153" width="12.1" height="26" rx="2.0" fill="#FB2C36"/><g clip-path="url(#k42)"><rect x="972.2" y="153" width="69.6" height="26" fill="#FB2C36"/><rect x="980.0" y="153" width="61.8" height="26" fill="#F0B100"/><rect x="985.0" y="153" width="56.8" height="26" fill="#F6339A"/><rect x="986.4" y="153" width="55.4" height="26" fill="#79716B"/><rect x="987.4" y="153" width="54.4" height="26" fill="#AD46FF"/><rect x="988.5" y="153" width="53.3" height="26" fill="#79716B"/><rect x="989.7" y="153" width="52.1" height="26" fill="#FF6900"/><rect x="992.8" y="153" width="49.0" height="26" fill="#79716B"/><rect x="993.8" y="153" width="48.0" height="26" fill="#AD46FF"/><rect x="997.8" y="153" width="44.0" height="26" fill="#7CCF00"/><rect x="998.8" y="153" width="43.0" height="26" fill="#79716B"/><rect x="999.9" y="153" width="41.9" height="26" fill="#2B7FFF"/><rect x="1005.9" y="153" width="35.9" height="26" fill="#FE9A00"/><rect x="1007.0" y="153" width="34.8" height="26" fill="#AD46FF"/><rect x="1008.0" y="153" width="33.8" height="26" fill="#79716B"/><rect x="1009.1" y="153" width="32.7" height="26" fill="#00B8DB"/><rect x="1012.7" y="153" width="29.1" height="26" fill="#2B7FFF"/><rect x="1013.8" y="153" width="28.0" height="26" fill="#AD46FF"/><rect x="1014.8" y="153" width="27.0" height="26" fill="#79716B"/><rect x="1015.5" y="153" width="26.3" height="26" fill="#FB2C36"/><rect x="1022.9" y="153" width="18.9" height="26" fill="#F0B100"/><rect x="1026.1" y="153" width="15.7" height="26" fill="#F6339A"/><rect x="1027.1" y="153" width="14.7" height="26" fill="#AD46FF"/><rect x="1028.3" y="153" width="13.5" height="26" fill="#79716B"/><rect x="1029.3" y="153" width="12.5" height="26" fill="#00B8DB"/><rect x="1031.1" y="153" width="10.7" height="26" fill="#FE9A00"/><rect x="1032.3" y="153" width="9.5" height="26" fill="#AD46FF"/><rect x="1033.0" y="153" width="8.8" height="26" fill="#79716B"/><rect x="1034.0" y="153" width="7.8" height="26" fill="#2B7FFF"/></g><g clip-path="url(#k43)"><rect x="1060.2" y="153" width="9.7" height="26" fill="#8E51FF"/><rect x="1061.1" y="153" width="8.8" height="26" fill="#00B8DB"/></g><g clip-path="url(#k44)"><rect x="1071.3" y="153" width="60.6" height="26" fill="#2B7FFF"/><rect x="1074.1" y="153" width="57.8" height="26" fill="#FB2C36"/><rect x="1078.0" y="153" width="53.9" height="26" fill="#79716B"/><rect x="1079.1" y="153" width="52.8" height="26" fill="#8E51FF"/></g><g clip-path="url(#k45)"><rect x="1133.3" y="153" width="15.6" height="26" fill="#00A6F4"/><rect x="1136.9" y="153" width="12.0" height="26" fill="#FB2C36"/><rect x="1140.1" y="153" width="8.8" height="26" fill="#2B7FFF"/></g><g clip-path="url(#k46)"><rect x="1216.2" y="153" width="12.6" height="26" fill="#79716B"/><rect x="1217.2" y="153" width="11.6" height="26" fill="#FB2C36"/></g><g clip-path="url(#k47)"><rect x="1230.2" y="153" width="43.5" height="26" fill="#FB2C36"/><rect x="1238.0" y="153" width="35.7" height="26" fill="#F0B100"/><rect x="1243.2" y="153" width="30.5" height="26" fill="#F6339A"/><rect x="1244.9" y="153" width="28.8" height="26" fill="#79716B"/><rect x="1247.0" y="153" width="26.7" height="26" fill="#FE9A00"/><rect x="1248.4" y="153" width="25.3" height="26" fill="#00B8DB"/><rect x="1249.4" y="153" width="24.3" height="26" fill="#79716B"/><rect x="1250.5" y="153" width="23.2" height="26" fill="#00C950"/><rect x="1251.5" y="153" width="22.2" height="26" fill="#7CCF00"/><rect x="1253.0" y="153" width="20.7" height="26" fill="#AD46FF"/><rect x="1254.1" y="153" width="19.6" height="26" fill="#79716B"/><rect x="1255.1" y="153" width="18.6" height="26" fill="#FE9A00"/><rect x="1256.5" y="153" width="17.2" height="26" fill="#00C950"/><rect x="1257.9" y="153" width="15.8" height="26" fill="#7CCF00"/><rect x="1258.8" y="153" width="14.9" height="26" fill="#2B7FFF"/></g><g clip-path="url(#k48)"><rect x="1275.4" y="153" width="23.4" height="26" fill="#FE9A00"/><rect x="1276.4" y="153" width="22.4" height="26" fill="#79716B"/><rect x="1277.1" y="153" width="21.7" height="26" fill="#00B8DB"/><rect x="1279.4" y="153" width="19.4" height="26" fill="#F0B100"/><rect x="1282.5" y="153" width="16.3" height="26" fill="#FE9A00"/><rect x="1283.5" y="153" width="15.3" height="26" fill="#FB2C36"/><rect x="1284.6" y="153" width="14.2" height="26" fill="#79716B"/><rect x="1285.6" y="153" width="13.2" height="26" fill="#AD46FF"/><rect x="1286.7" y="153" width="12.1" height="26" fill="#F6339A"/><rect x="1288.2" y="153" width="10.6" height="26" fill="#79716B"/><rect x="1289.2" y="153" width="9.6" height="26" fill="#FB2C36"/><rect x="1290.6" y="153" width="8.2" height="26" fill="#2B7FFF"/></g><g clip-path="url(#k49)"><rect x="85.2" y="182" width="9.8" height="26" fill="#2B7FFF"/><rect x="87.0" y="182" width="8.0" height="26" fill="#FB2C36"/></g><g clip-path="url(#k50)"><rect x="96.2" y="182" width="20.8" height="26" fill="#F6339A"/><rect x="99.0" y="182" width="18.0" height="26" fill="#79716B"/><rect x="101.0" y="182" width="16.0" height="26" fill="#7CCF00"/><rect x="102.4" y="182" width="14.6" height="26" fill="#AD46FF"/><rect x="103.6" y="182" width="13.4" height="26" fill="#FE9A00"/><rect x="105.0" y="182" width="12.0" height="26" fill="#79716B"/><rect x="106.8" y="182" width="10.2" height="26" fill="#FE9A00"/><rect x="108.0" y="182" width="9.0" height="26" fill="#2B7FFF"/></g><rect x="211.2" y="182" width="32.6" height="26" rx="2.0" fill="#FB2C36"/><rect x="245.2" y="182" width="7.6" height="26" rx="2.0" fill="#FB2C36"/><g clip-path="url(#k51)"><rect x="254.2" y="182" width="12.8" height="26" fill="#F0B100"/><rect x="257.0" y="182" width="10.0" height="26" fill="#AD46FF"/><rect x="258.7" y="182" width="8.3" height="26" fill="#2B7FFF"/></g><g clip-path="url(#k52)"><rect x="274.0" y="182" width="24.9" height="26" fill="#FB2C36"/><rect x="282.9" y="182" width="16.0" height="26" fill="#F0B100"/><rect x="286.0" y="182" width="12.9" height="26" fill="#F6339A"/><rect x="287.1" y="182" width="11.8" height="26" fill="#79716B"/><rect x="288.1" y="182" width="10.8" height="26" fill="#AD46FF"/><rect x="289.2" y="182" width="9.7" height="26" fill="#2B7FFF"/><rect x="290.0" y="182" width="8.9" height="26" fill="#FB2C36"/><rect x="291.0" y="182" width="7.9" height="26" fill="#2B7FFF"/></g><g clip-path="url(#k53)"><rect x="314.1" y="182" width="8.8" height="26" fill="#7CCF00"/><rect x="315.0" y="182" width="7.9" height="26" fill="#2B7FFF"/></g><g clip-path="url(#k54)"><rect x="357.4" y="182" width="44.4" height="26" fill="#FB2C36"/><rect x="364.9" y="182" width="36.9" height="26" fill="#F0B100"/><rect x="368.0" y="182" width="33.8" height="26" fill="#AD46FF"/><rect x="369.2" y="182" width="32.6" height="26" fill="#2B7FFF"/><rect x="372.7" y="182" width="29.1" height="26" fill="#8E51FF"/><rect x="376.3" y="182" width="25.5" height="26" fill="#2B7FFF"/><rect x="379.1" y="182" width="22.7" height="26" fill="#FB2C36"/><rect x="384.1" y="182" width="17.7" height="26" fill="#F0B100"/><rect x="386.2" y="182" width="15.6" height="26" fill="#FB2C36"/><rect x="389.0" y="182" width="12.8" height="26" fill="#62748E"/><rect x="390.2" y="182" width="11.6" height="26" fill="#00C950"/><rect x="391.2" y="182" width="10.6" height="26" fill="#2B7FFF"/><rect x="392.2" y="182" width="9.6" height="26" fill="#FB2C36"/><rect x="393.0" y="182" width="8.8" height="26" fill="#00B8DB"/><rect x="394.0" y="182" width="7.8" height="26" fill="#2B7FFF"/></g><rect x="415.3" y="182" width="7.4" height="26" rx="2.0" fill="#FB2C36"/><g clip-path="url(#k55)"><rect x="424.1" y="182" width="18.9" height="26" fill="#FB2C36"/><rect x="428.1" y="182" width="14.9" height="26" fill="#F0B100"/><rect x="430.9" y="182" width="12.1" height="26" fill="#AD46FF"/><rect x="432.3" y="182" width="10.7" height="26" fill="#79716B"/><rect x="433.3" y="182" width="9.7" height="26" fill="#00C950"/><rect x="434.7" y="182" width="8.3" height="26" fill="#2B7FFF"/></g><g clip-path="url(#k56)"><rect x="1000.2" y="182" width="20.6" height="26" fill="#F0B100"/><rect x="1003.9" y="182" width="16.9" height="26" fill="#79716B"/><rect x="1004.9" y="182" width="15.9" height="26" fill="#AD46FF"/><rect x="1005.9" y="182" width="14.9" height="26" fill="#2B7FFF"/><rect x="1008.8" y="182" width="12.0" height="26" fill="#FB2C36"/><rect x="1012.4" y="182" width="8.4" height="26" fill="#2B7FFF"/></g><g clip-path="url(#k57)"><rect x="1029.3" y="182" width="9.6" height="26" fill="#FB2C36"/><rect x="1030.2" y="182" width="8.7" height="26" fill="#8E51FF"/><rect x="1031.1" y="182" width="7.8" height="26" fill="#2B7FFF"/></g><g clip-path="url(#k58)"><rect x="1061.1" y="182" width="50.8" height="26" fill="#00B8DB"/><rect x="1062.2" y="182" width="49.7" height="26" fill="#FB2C36"/><rect x="1065.1" y="182" width="46.8" height="26" fill="#79716B"/><rect x="1065.9" y="182" width="46.0" height="26" fill="#F6339A"/><rect x="1067.2" y="182" width="44.7" height="26" fill="#AD46FF"/><rect x="1067.7" y="182" width="44.2" height="26" fill="#7CCF00"/><rect x="1068.8" y="182" width="43.1" height="26" fill="#FE9A00"/><rect x="1070.0" y="182" width="41.9" height="26" fill="#2B7FFF"/><rect x="1079.1" y="182" width="32.8" height="26" fill="#FB2C36"/></g><rect x="1113.2" y="182" width="13.8" height="26" rx="2.0" fill="#FB2C36"/><g clip-path="url(#k59)"><rect x="1128.0" y="182" width="20.9" height="26" fill="#F0B100"/><rect x="1130.9" y="182" width="18.0" height="26" fill="#79716B"/><rect x="1132.9" y="182" width="16.0" height="26" fill="#2B7FFF"/><rect x="1140.0" y="182" width="8.9" height="26" fill="#8E51FF"/><rect x="1141.2" y="182" width="7.7" height="26" fill="#2B7FFF"/></g><rect x="1259.1" y="182" width="14.6" height="26" rx="2.0" fill="#8E51FF"/><g clip-path="url(#k60)"><rect x="1275.4" y="182" width="20.3" height="26" fill="#2B7FFF"/><rect x="1276.4" y="182" width="19.3" height="26" fill="#F6339A"/><rect x="1277.5" y="182" width="18.2" height="26" fill="#7CCF00"/><rect x="1278.6" y="182" width="17.1" height="26" fill="#79716B"/><rect x="1279.4" y="182" width="16.3" height="26" fill="#2B7FFF"/><rect x="1286.7" y="182" width="9.0" height="26" fill="#79716B"/><rect x="1287.9" y="182" width="7.8" height="26" fill="#2B7FFF"/></g><g clip-path="url(#k61)"><rect x="289.0" y="211" width="8.9" height="26" fill="#FB2C36"/><rect x="290.0" y="211" width="7.9" height="26" fill="#2B7FFF"/></g><g clip-path="url(#k62)"><rect x="373.1" y="211" width="10.7" height="26" fill="#FB2C36"/><rect x="376.3" y="211" width="7.5" height="26" fill="#2B7FFF"/></g><rect x="392.2" y="211" width="7.8" height="26" rx="2.0" fill="#2B7FFF"/><g clip-path="url(#k63)"><rect x="1061.1" y="211" width="8.9" height="26" fill="#8E51FF"/><rect x="1062.2" y="211" width="7.8" height="26" fill="#F6339A"/></g><g clip-path="url(#k64)"><rect x="1259.1" y="211" width="23.8" height="26" fill="#FB2C36"/><rect x="1269.7" y="211" width="13.2" height="26" fill="#F0B100"/><rect x="1272.5" y="211" width="10.4" height="26" fill="#79716B"/><rect x="1273.5" y="211" width="9.4" height="26" fill="#2B7FFF"/></g><g clip-path="url(#k65)"><rect x="1061.1" y="240" width="8.9" height="26" fill="#00C950"/><rect x="1062.2" y="240" width="7.8" height="26" fill="#2B7FFF"/></g><text x="12.0" y="25.4">exec – 954,999</text><text x="12.0" y="54.4">execute – 950,218</text><text x="12.0" y="83.4">transfer…</text><text x="89.2" y="83.4">unlock – 155,713</text><text x="318.2" y="83.4">unlock</text><text x="419.0" y="83.4">exchange – 107,276</text><text x="582.2" y="83.4">exchange – 162,898</text><text x="823.0" y="83.4">swap – 94,349</text><text x="962.3" y="83.4">unlock</text><text x="1064.2" y="83.4">sellBase – 106,054</text><text x="1220.3" y="83.4">unlock</text><text x="12.0" y="112.4">transfe…</text><text x="89.2" y="112.4">0xf48a...3f1c – 153,505</text><text x="318.1" y="112.4">unlockCall…</text><text x="419.0" y="112.4">exchange – 104,586</text><text x="690.1" y="112.4">SLOAD</text><text x="822.9" y="112.4">transf…</text><text x="962.3" y="112.4">unlockCal…</text><text x="1063.9" y="112.4">sellBase – 103,382</text><text x="1220.0" y="112.4">unlockCal…</text><text x="12.0" y="141.4">transf…</text><text x="91.0" y="141.4">0xba13...9ba9 …</text><text x="215.2" y="141.4">sendTo</text><text x="440.3" y="141.4">tra…</text><text x="1083.4" y="141.4">transf…</text><text x="214.6" y="170.4">tran…</text><text x="1083.1" y="170.4">trans…</text></svg></div>

<svg class="abs" style="left:71px;top:1131px" width="10" height="10" viewBox="0 0 10 10" fill="none" stroke="#9A8360" stroke-width="1.2" stroke-linecap="round" stroke-linejoin="round"><path d="M1.500 6.500l3.500-3.500 3.500 3.500"/></svg>
<div class="abs" id="lg" style="left:89.1px;top:1128px;font:400 12.6px/16px 'Liberation Sans',sans-serif;color:#9A8360;letter-spacing:0.147px;-webkit-text-stroke:0.15px #9A8360">Legend (19 categories)</div>
<div class="sw" style="left:69px;top:1155px;background:#00BBA7"></div><div class="abs" id="L0" style="left:83.3px;top:1152px;font:400 12.2px/16px 'Liberation Sans',sans-serif;color:#2A221C;letter-spacing:0.128px">Bit Ops</div><div class="sw" style="left:141.1px;top:1155px;background:#2B7FFF"></div><div class="abs" id="L1" style="left:155px;top:1152px;font:400 12.2px/16px 'Liberation Sans',sans-serif;color:#2A221C;letter-spacing:0.000px;transform-origin:0 50%;transform:scaleX(0.8951)">CALL</div><div class="sw" style="left:198.9px;top:1155px;background:#8E51FF"></div><div class="abs" id="L2" style="left:212.8px;top:1152px;font:400 12.2px/16px 'Liberation Sans',sans-serif;color:#2A221C;letter-spacing:0.294px">Comparisons</div><div class="sw" style="left:303.9px;top:1155px;background:#00A6F4"></div><div class="abs" id="L3" style="left:318.1px;top:1152px;font:400 12.2px/16px 'Liberation Sans',sans-serif;color:#2A221C;letter-spacing:0.618px">Contract</div><div class="sw" style="left:385px;top:1155px;background:#8E51FF"></div><div class="abs" id="L4" style="left:399.7px;top:1152px;font:400 12.2px/16px 'Liberation Sans',sans-serif;color:#2A221C;letter-spacing:0.000px;transform-origin:0 50%;transform:scaleX(0.8805)">DELEGATECALL</div><div class="sw" style="left:500.1px;top:1155px;background:#79716B"></div><div class="abs" id="L5" style="left:514px;top:1152px;font:400 12.2px/16px 'Liberation Sans',sans-serif;color:#2A221C;letter-spacing:0.016px">Dup</div><div class="sw" style="left:553px;top:1155px;background:#2B7FFF"></div><div class="abs" id="L6" style="left:567.3px;top:1152px;font:400 12.2px/16px 'Liberation Sans',sans-serif;color:#2A221C;letter-spacing:0.364px">Ethereum State</div><div class="sw" style="left:674px;top:1155px;background:#615FFF"></div><div class="abs" id="L7" style="left:687.9px;top:1152px;font:400 12.2px/16px 'Liberation Sans',sans-serif;color:#2A221C;letter-spacing:0.151px">Hashing</div><div class="sw" style="left:749.9px;top:1155px;background:#F6339A"></div><div class="abs" id="L8" style="left:764.2px;top:1152px;font:400 12.2px/16px 'Liberation Sans',sans-serif;color:#2A221C;letter-spacing:0.568px">Jump</div><div class="sw" style="left:812.2px;top:1155px;background:#F0B100"></div><div class="abs" id="L9" style="left:826.5px;top:1152px;font:400 12.2px/16px 'Liberation Sans',sans-serif;color:#2A221C;letter-spacing:0.303px">Log</div><div class="sw" style="left:864.1px;top:1155px;background:#00B8DB"></div><div class="abs" id="L10" style="left:878px;top:1152px;font:400 12.2px/16px 'Liberation Sans',sans-serif;color:#2A221C;letter-spacing:0.502px">Logic</div><div class="sw" style="left:926px;top:1155px;background:#FE9A00"></div><div class="abs" id="L11" style="left:939.9px;top:1152px;font:400 12.2px/16px 'Liberation Sans',sans-serif;color:#2A221C;letter-spacing:0.569px">Math</div><div class="sw" style="left:985.1px;top:1155px;background:#00C950"></div><div class="abs" id="L12" style="left:999px;top:1152px;font:400 12.2px/16px 'Liberation Sans',sans-serif;color:#2A221C;letter-spacing:0.561px">Memory</div><div class="sw" style="left:1062.2px;top:1155px;background:#AD46FF"></div><div class="abs" id="L13" style="left:1076.6px;top:1152px;font:400 12.2px/16px 'Liberation Sans',sans-serif;color:#2A221C;letter-spacing:0.085px">Pop</div><div class="sw" style="left:1115.1px;top:1155px;background:#62748E"></div><div class="abs" id="L14" style="left:1129px;top:1152px;font:400 12.2px/16px 'Liberation Sans',sans-serif;color:#2A221C;letter-spacing:0.005px">Push</div><div class="sw" style="left:1172.9px;top:1155px;background:#00B8DB"></div><div class="abs" id="L15" style="left:1186.8px;top:1152px;font:400 12.2px/16px 'Liberation Sans',sans-serif;color:#2A221C;letter-spacing:0.000px;transform-origin:0 50%;transform:scaleX(0.9082)">STATICCALL</div><div class="sw" style="left:1269.3px;top:1155px;background:#FB2C36"></div><div class="abs" id="L16" style="left:1283.2px;top:1152px;font:400 12.2px/16px 'Liberation Sans',sans-serif;color:#2A221C;letter-spacing:0.387px">Storage</div><div class="sw" style="left:1345px;top:1155px;background:#7CCF00"></div><div class="abs" id="L17" style="left:1358.9px;top:1152px;font:400 12.2px/16px 'Liberation Sans',sans-serif;color:#2A221C;letter-spacing:0.114px">Swap</div><div class="sw" style="left:69px;top:1175px;background:#FF6900"></div><div class="abs" id="L18" style="left:83.3px;top:1172px;font:400 12.2px/16px 'Liberation Sans',sans-serif;color:#2A221C;letter-spacing:0.349px">Transient Storage</div><div class="sw" style="left:202.1px;top:1175px;background:#FB2C36"></div><div class="abs" id="L19" style="left:216px;top:1172px;font:400 12.2px/16px 'Liberation Sans',sans-serif;color:#2A221C;letter-spacing:-0.065px">Error</div>
</body></html>
